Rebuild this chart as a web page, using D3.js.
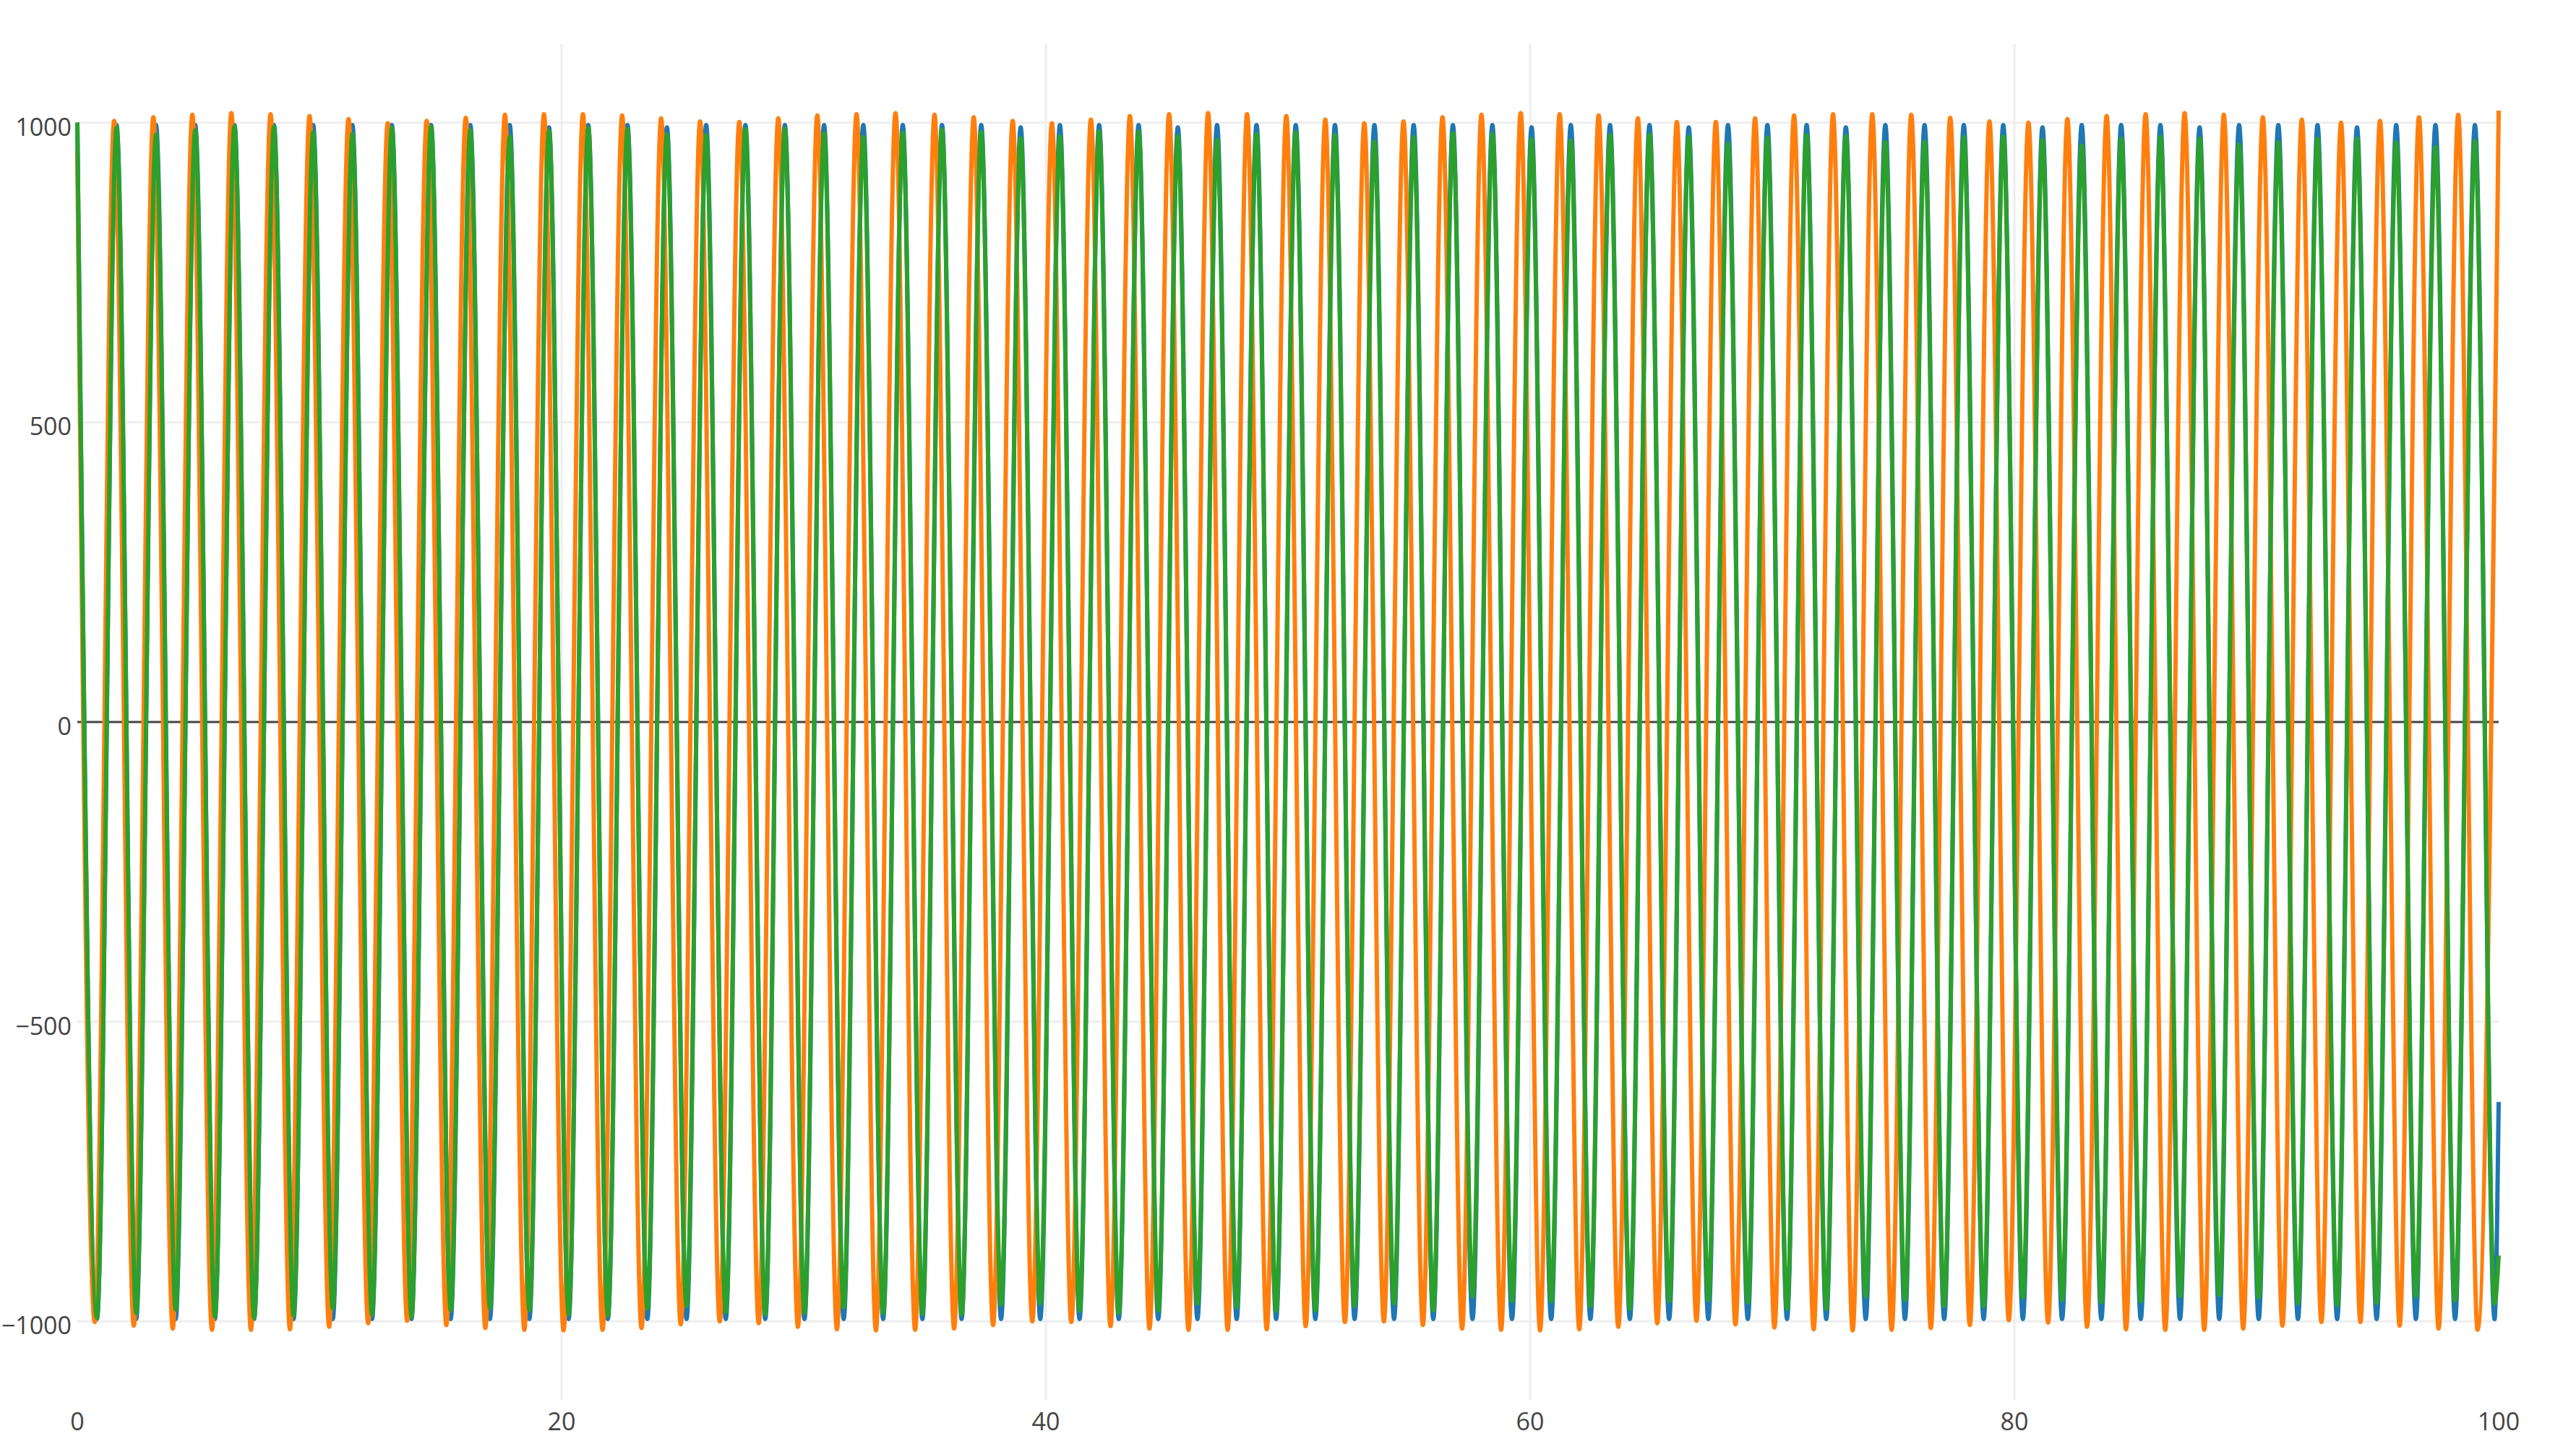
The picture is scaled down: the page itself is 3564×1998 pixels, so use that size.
<!DOCTYPE html>
<html><head><meta charset="utf-8">
<script src="https://cdn.jsdelivr.net/npm/d3@7"></script>
<style>html,body{margin:0;padding:0;background:#fff;} svg{display:block;}</style>
</head><body>
<svg id="chart" width="3564" height="1998"></svg>
<script>
// ---- data (extrema) ----
const xTicks = [0, 20, 40, 60, 80, 100];
const yTicks = [-1000, -500, 0, 500, 1000];
const xGridTicks = [20, 40, 60, 80];

// x positions of turning points shared by trace 0 (blue) and trace 2 (green)
const blueGreenX = [
0, 0.81, 1.62, 2.43, 3.25, 4.06, 4.87, 5.68, 6.49, 7.30,
8.12, 8.93, 9.74, 10.55, 11.36, 12.17, 12.99, 13.80, 14.61, 15.42,
16.23, 17.04, 17.86, 18.67, 19.48, 20.29, 21.10, 21.91, 22.72, 23.54,
24.35, 25.16, 25.97, 26.78, 27.59, 28.41, 29.22, 30.03, 30.84, 31.65,
32.46, 33.28, 34.09, 34.90, 35.71, 36.52, 37.33, 38.15, 38.96, 39.77,
40.58, 41.39, 42.20, 43.01, 43.83, 44.64, 45.45, 46.26, 47.07, 47.88,
48.70, 49.51, 50.32, 51.13, 51.94, 52.75, 53.57, 54.38, 55.19, 56.00,
56.81, 57.62, 58.44, 59.25, 60.06, 60.87, 61.68, 62.49, 63.30, 64.12,
64.93, 65.74, 66.55, 67.36, 68.17, 68.99, 69.80, 70.61, 71.42, 72.23,
73.04, 73.86, 74.67, 75.48, 76.29, 77.10, 77.91, 78.73, 79.54, 80.35,
81.16, 81.97, 82.78, 83.59, 84.41, 85.22, 86.03, 86.84, 87.65, 88.46,
89.28, 90.09, 90.90, 91.71, 92.52, 93.33, 94.15, 94.96, 95.77, 96.58,
97.39, 98.20, 99.02, 99.83, 100
];

const blueY = [
1000,-996, 996,-996, 996,-996, 996,-996, 996,-996,
996,-996, 996,-996, 996,-996, 996,-996, 996,-996,
996,-996, 996,-996, 992,-996, 996,-996, 996,-996,
992,-996, 996,-996, 996,-996, 996,-996, 996,-996,
996,-996, 996,-996, 996,-996, 996,-996, 992,-996,
996,-996, 996,-996, 996,-996, 992,-996, 996,-996,
996,-996, 996,-996, 996,-996, 996,-996, 996,-996,
996,-996, 996,-996, 992,-996, 996,-996, 996,-996,
996,-996, 992,-996, 996,-996, 996,-996, 996,-996,
992,-996, 996,-996, 996,-996, 996,-996, 996,-996,
992,-996, 996,-996, 996,-996, 996,-996, 992,-996,
996,-996, 996,-996, 996,-996, 992,-996, 996,-996,
996,-996, 996,-996, -634
];

const greenY = [
1000,-994, 991,-986, 980,-980, 987,-992, 994,-994,
993,-990, 984,-978, 981,-988, 991,-992, 993,-981,
987,-978, 976,-981, 986,-988, 991,-990, 989,-978,
980,-974, 979,-984, 989,-988, 990,-986, 982,-976,
976,-986, 983,-987, 988,-988, 984,-972, 974,-970,
977,-982, 985,-986, 985,-982, 977,-970, 971,-976,
981,-983, 984,-982, 979,-974, 968,-970, 976,-982,
982,-958, 981,-966, 972,-966, 970,-974, 979,-979,
980,-966, 976,-964, 965,-968, 975,-979, 979,-979,
977,-958, 967,-964, 968,-974, 976,-974, 977,-960,
971,-964, 962,-968, 973,-966, 976,-958, 973,-956,
963,-960, 967,-970, 973,-973, 973,-969, 967,-958,
959,-965, 969,-970, -890
];

// trace 1 (orange) turning points
const orangeX = [
0, 0.72, 1.52, 2.33, 3.14, 3.94, 4.75, 5.56, 6.36, 7.17,
7.98, 8.78, 9.59, 10.40, 11.20, 12.01, 12.82, 13.62, 14.43, 15.24,
16.04, 16.85, 17.66, 18.46, 19.27, 20.08, 20.88, 21.69, 22.50, 23.30,
24.11, 24.92, 25.72, 26.53, 27.34, 28.14, 28.95, 29.76, 30.56, 31.37,
32.18, 32.98, 33.79, 34.60, 35.40, 36.21, 37.02, 37.82, 38.63, 39.44,
40.25, 41.05, 41.86, 42.67, 43.47, 44.28, 45.09, 45.89, 46.70, 47.51,
48.31, 49.12, 49.93, 50.73, 51.54, 52.35, 53.15, 53.96, 54.77, 55.57,
56.38, 57.19, 57.99, 58.80, 59.61, 60.41, 61.22, 62.03, 62.83, 63.64,
64.45, 65.25, 66.06, 66.87, 67.67, 68.48, 69.29, 70.09, 70.90, 71.71,
72.51, 73.32, 74.13, 74.93, 75.74, 76.55, 77.35, 78.16, 78.97, 79.77,
80.58, 81.39, 82.19, 83.00, 83.81, 84.61, 85.42, 86.23, 87.03, 87.84,
88.65, 89.45, 90.26, 91.07, 91.87, 92.68, 93.49, 94.29, 95.10, 95.91,
96.71, 97.52, 98.33, 99.13, 100
];

const orangeY = [
950,
-1001,1003, -1007,1009, -1012,1013, -1014,1016, -1014,1014,
-1013,1011, -1009,1006, -1003,999, -999,1003, -1006,1008,
-1011,1013, -1014,1014, -1015,1014, -1014,1012, -1011,1007,
-1005,1002, -1000,1001, -1003,1007, -1009,1012, -1013,1014,
-1015,1016, -1014,1013, -1012,1009, -1006,1003, -1000,999,
-1001,1005, -1008,1011, -1012,1014, -1014,1016, -1014,1014,
-1013,1011, -1008,1005, -1001,999, -1000,1002, -1006,1009,
-1012,1013, -1014,1016, -1015,1014, -1013,1012, -1009,1007,
-1003,1001, -999,1001, -1005,1007, -1010,1012, -1013,1014,
-1015,1014, -1014,1013, -1011,1008, -1006,1002, -998,1000,
-1002,1006, -1009,1011, -1013,1014, -1014,1016, -1014,1013,
-1012,1009, -1007,1005, -1001,1000, -1001,1003, -1007,1009,
-1012,1013,
-1014, 1020
];

// ---- drawing ----
const svg = d3.select("#chart");
const x = d3.scaleLinear().domain([0, 100]).range([107, 3457]);
const y = d3.scaleLinear().domain([-1131, 1131]).range([1937, 61]);
const fmt = d3.format("d");
const FONT = "'Open Sans', 'Noto Sans', sans-serif";

// grid
const grid = svg.append("g");
grid.selectAll("line.vg").data(xGridTicks).join("line")
  .attr("x1", d => x(d)).attr("x2", d => x(d))
  .attr("y1", y.range()[1]).attr("y2", y.range()[0])
  .attr("stroke", "#eee").attr("stroke-width", 3);
grid.selectAll("line.hg").data(yTicks.filter(d => d !== 0)).join("line")
  .attr("x1", x.range()[0]).attr("x2", x.range()[1])
  .attr("y1", d => y(d)).attr("y2", d => y(d))
  .attr("stroke", "#eee").attr("stroke-width", 3);
// zero line
svg.append("line")
  .attr("x1", x.range()[0]).attr("x2", x.range()[1])
  .attr("y1", y(0)).attr("y2", y(0))
  .attr("stroke", "#444").attr("stroke-width", 3);

// traces
const traces = [
  {xs: blueGreenX, ys: blueY, color: "#1f77b4"},
  {xs: orangeX, ys: orangeY, color: "#ff7f0e"},
  {xs: blueGreenX, ys: greenY, color: "#2ca02c"}
];
const line = d3.line().x(d => x(d[0])).y(d => y(d[1])).curve(d3.curveMonotoneX);
traces.forEach(t => {
  const pts = t.xs.map((v, i) => [v, t.ys[i]]);
  svg.append("path").attr("d", line(pts))
    .attr("fill", "none").attr("stroke", t.color)
    .attr("stroke-width", 6).attr("stroke-linejoin", "round");
});

// tick labels
svg.append("g").selectAll("text").data(xTicks).join("text")
  .attr("x", d => x(d)).attr("y", 1979)
  .attr("text-anchor", "middle")
  .attr("font-family", FONT).attr("font-size", 34).attr("fill", "#444")
  .text(d => fmt(d));
svg.append("g").selectAll("text").data(yTicks).join("text")
  .attr("x", 99).attr("y", d => y(d) + 18)
  .attr("text-anchor", "end")
  .attr("font-family", FONT).attr("font-size", 34).attr("fill", "#444")
  .text(d => fmt(d));
</script>
</body></html>
